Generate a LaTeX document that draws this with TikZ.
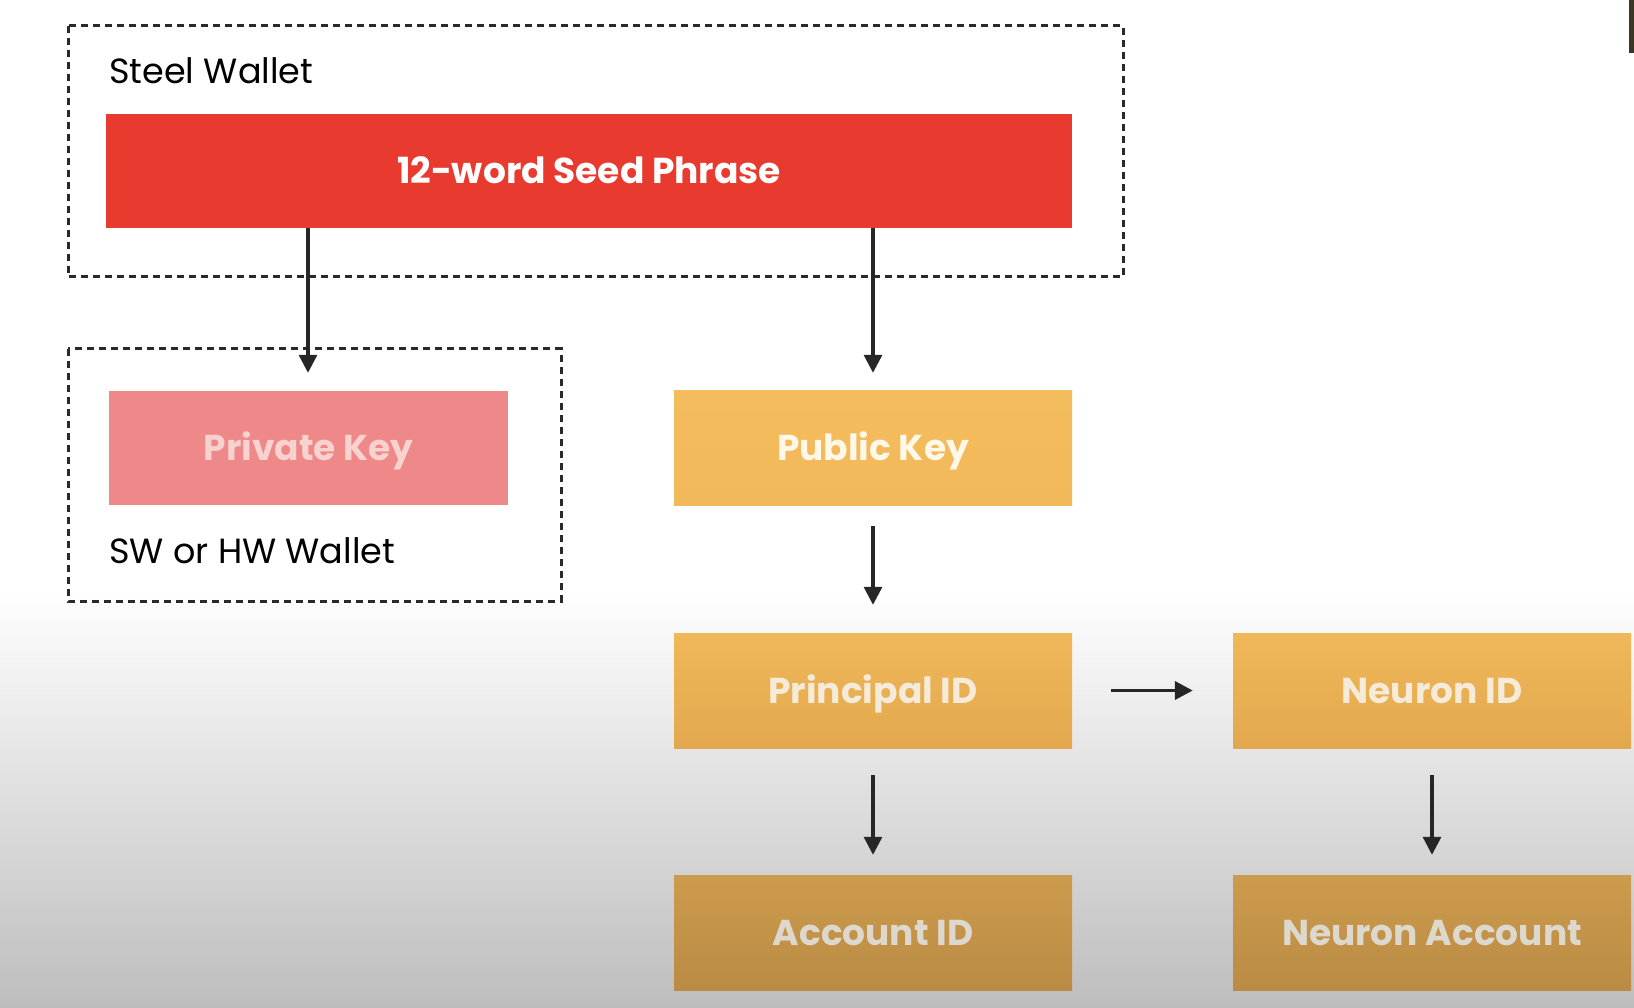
\documentclass[tikz,border=0pt]{standalone}
\usepackage{fontspec}
\setmainfont{Poppins}
\usepackage{xcolor}
\usepackage{tikz}
\usetikzlibrary{arrows.meta, positioning}

\definecolor{seedred}{HTML}{E93A30}
\definecolor{privpink}{HTML}{EF8888}
\definecolor{privtext}{HTML}{F7D2CE}
\definecolor{pubtop}{HTML}{F3BC5D}
\definecolor{pubbot}{HTML}{F2B95A}
\definecolor{princtop}{HTML}{EFB859}
\definecolor{princbot}{HTML}{E3A84E}
\definecolor{accttop}{HTML}{CC9B4D}
\definecolor{acctbot}{HTML}{BA8B44}
\definecolor{pubtext}{HTML}{FFF8E8}
\definecolor{princtext}{HTML}{F6EAD8}
\definecolor{accttext}{HTML}{DDD8CD}
\definecolor{bgbot}{HTML}{BDBDBD}
\definecolor{arrowgray}{HTML}{262626}
\definecolor{dashgray}{HTML}{2A2A2A}
\definecolor{stripdark}{HTML}{3B3526}

\begin{document}
\begin{tikzpicture}[x=1pt, y=-1pt,
    box/.style={rectangle, minimum width=398pt, minimum height=115pt, inner sep=0pt,
        text height=25pt, text depth=0pt, font=\fontsize{36}{40}\selectfont\bfseries},
    arr/.style={line width=3.2pt, draw=arrowgray, -{Triangle[width=18pt, length=18pt]}},
    dashbox/.style={line width=3pt, draw=dashgray, dash pattern=on 7pt off 5pt},
    lbl/.style={anchor=base west, inner sep=0pt, font=\fontsize{35}{40}\selectfont}]
    \useasboundingbox (0,0) rectangle (1634,1008);

    % background
    \fill[white] (0,0) rectangle (1634,1008);
    \shade[top color=white, bottom color=bgbot] (0,590) rectangle (1634,1008);
    \fill[stripdark] (1629,0) rectangle (1634,53);

    % wallets
    \draw[dashbox] (68,26) rectangle (1123,277);
    \draw[dashbox] (68,349) rectangle (561,601);
    \node[lbl] (steel) at (109,84) {Steel Wallet};
    \node[lbl] (swhw) at (109,563) {SW or HW Wallet};

    % keys
    \node[box, fill=seedred, text=white, minimum width=966pt, minimum height=114pt] (seed) at (589,171) {12-word Seed Phrase};
    \node[box, fill=privpink, text=privtext, minimum width=399pt, minimum height=114pt] (priv) at (308.5,448) {Private Key};
    \node[box, top color=pubtop, bottom color=pubbot, text=pubtext, minimum height=114pt] (pub) at (873,448) {Public Key};

    % ids
    \node[box, top color=princtop, bottom color=princbot, text=princtext] (princ) at (873,690.5) {Principal ID};
    \node[box, top color=princtop, bottom color=princbot, text=princtext] (neuid) at (1432,690.5) {Neuron ID};
    \node[box, top color=accttop, bottom color=acctbot, text=accttext] (acct) at (873,932.5) {Account ID};
    \node[box, top color=accttop, bottom color=acctbot, text=accttext] (neuacc) at (1432,932.5) {Neuron Account};

    % arrows
    \draw[arr] (seed.south -| 308,0) -- ([yshift=18pt]priv.north -| 308,0);
    \draw[arr] (seed.south -| pub.north) -- ([yshift=18pt]pub.north);
    \draw[arr] ([yshift=-21pt]pub.south) -- ([yshift=28pt]princ.north);
    \draw[arr] ([yshift=-27pt]princ.south) -- ([yshift=20pt]acct.north);
    \draw[arr] ([yshift=-27pt]neuid.south) -- ([yshift=20pt]neuacc.north);
    \draw[arr, line width=3.8pt] ([xshift=39pt]princ.east) -- ([xshift=-40pt]neuid.west);
\end{tikzpicture}
\end{document}
